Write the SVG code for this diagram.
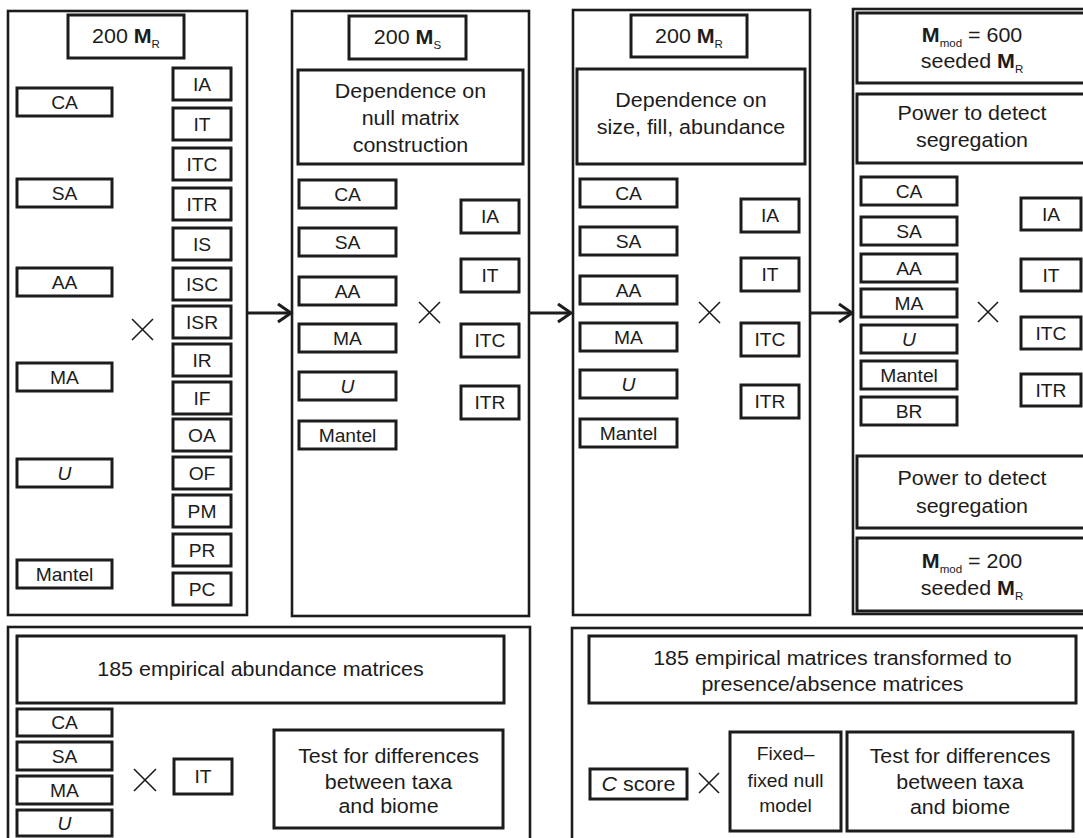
<svg xmlns="http://www.w3.org/2000/svg" width="1083" height="838" viewBox="0 0 1083 838">
<style>
.pn{fill:none;stroke:#1c1c1c;stroke-width:2.6}
.bx{fill:#fff;stroke:#1c1c1c;stroke-width:3}
.t{font-family:"Liberation Sans",Arial,Helvetica,sans-serif;font-size:19.5px;fill:#1c1c1c;text-anchor:middle}
.s{font-size:17.5px}
.i{font-style:italic}
.b{font-weight:bold}
.sub{font-size:10.5px}
.x{fill:none;stroke:#1c1c1c;stroke-width:1.6}
.ar{fill:none;stroke:#1c1c1c;stroke-width:2.8}
</style>
<defs>
<marker id="ah" markerUnits="userSpaceOnUse" markerWidth="20" markerHeight="22" viewBox="0 0 20 22" refX="16" refY="11" orient="auto">
<path d="M3,2 L16,11 L3,20" fill="none" stroke="#1c1c1c" stroke-width="3"/>
</marker>
</defs>
<rect width="1083" height="838" fill="#fff"/>

<g id="p1">
<rect class="pn" x="8" y="11" width="239" height="604"/>
<rect class="bx" x="68" y="15" width="116" height="43"/>
<text class="t" transform="translate(126,43) scale(1.1,1)">200 <tspan class="b">M</tspan><tspan class="sub" dy="5">R</tspan></text>
<rect class="bx" x="17" y="88" width="95" height="28"/><text class="t s" transform="translate(64.5,109) scale(1.1,1)">CA</text>
<rect class="bx" x="17" y="179" width="95" height="28"/><text class="t s" transform="translate(64.5,200) scale(1.1,1)">SA</text>
<rect class="bx" x="17" y="268" width="95" height="28"/><text class="t s" transform="translate(64.5,289) scale(1.1,1)">AA</text>
<rect class="bx" x="17" y="363" width="95" height="28"/><text class="t s" transform="translate(64.5,384) scale(1.1,1)">MA</text>
<rect class="bx" x="17" y="459" width="95" height="28"/><text class="t s i" transform="translate(64.5,480) scale(1.1,1)">U</text>
<rect class="bx" x="17" y="560" width="95" height="28"/><text class="t s" transform="translate(64.5,581) scale(1.1,1)">Mantel</text>
<rect class="bx" x="173" y="68" width="58" height="32"/><text class="t s" transform="translate(202,90.5) scale(1.1,1)">IA</text>
<rect class="bx" x="173" y="108" width="58" height="32"/><text class="t s" transform="translate(202,130.5) scale(1.1,1)">IT</text>
<rect class="bx" x="173" y="148" width="58" height="32"/><text class="t s" transform="translate(202,170.5) scale(1.1,1)">ITC</text>
<rect class="bx" x="173" y="188" width="58" height="32"/><text class="t s" transform="translate(202,210.5) scale(1.1,1)">ITR</text>
<rect class="bx" x="173" y="228" width="58" height="32"/><text class="t s" transform="translate(202,250.5) scale(1.1,1)">IS</text>
<rect class="bx" x="173" y="268" width="58" height="32"/><text class="t s" transform="translate(202,290.5) scale(1.1,1)">ISC</text>
<rect class="bx" x="173" y="306" width="58" height="32"/><text class="t s" transform="translate(202,328.5) scale(1.1,1)">ISR</text>
<rect class="bx" x="173" y="344" width="58" height="32"/><text class="t s" transform="translate(202,366.5) scale(1.1,1)">IR</text>
<rect class="bx" x="173" y="382" width="58" height="32"/><text class="t s" transform="translate(202,404.5) scale(1.1,1)">IF</text>
<rect class="bx" x="173" y="419" width="58" height="32"/><text class="t s" transform="translate(202,441.5) scale(1.1,1)">OA</text>
<rect class="bx" x="173" y="457" width="58" height="32"/><text class="t s" transform="translate(202,479.5) scale(1.1,1)">OF</text>
<rect class="bx" x="173" y="495" width="58" height="32"/><text class="t s" transform="translate(202,517.5) scale(1.1,1)">PM</text>
<rect class="bx" x="173" y="534" width="58" height="32"/><text class="t s" transform="translate(202,556.5) scale(1.1,1)">PR</text>
<rect class="bx" x="173" y="573" width="58" height="32"/><text class="t s" transform="translate(202,595.5) scale(1.1,1)">PC</text>
<path class="x" d="M132,319 L153,340 M153,319 L132,340"/>
</g>

<g id="p2">
<rect class="pn" x="292" y="11" width="237" height="605"/>
<rect class="bx" x="349" y="16" width="117" height="43"/>
<text class="t" transform="translate(407.5,44) scale(1.1,1)">200 <tspan class="b">M</tspan><tspan class="sub" dy="5">S</tspan></text>
<rect class="bx" x="298" y="70" width="225" height="94"/>
<text class="t" transform="translate(410.5,98) scale(1.1,1)">Dependence on</text>
<text class="t" transform="translate(410.5,125) scale(1.1,1)">null matrix</text>
<text class="t" transform="translate(410.5,152) scale(1.1,1)">construction</text>
<rect class="bx" x="299" y="180" width="97" height="28"/><text class="t s" transform="translate(347.5,201) scale(1.1,1)">CA</text>
<rect class="bx" x="299" y="228" width="97" height="28"/><text class="t s" transform="translate(347.5,249) scale(1.1,1)">SA</text>
<rect class="bx" x="299" y="277" width="97" height="28"/><text class="t s" transform="translate(347.5,298) scale(1.1,1)">AA</text>
<rect class="bx" x="299" y="324" width="97" height="28"/><text class="t s" transform="translate(347.5,345) scale(1.1,1)">MA</text>
<rect class="bx" x="299" y="372" width="97" height="28"/><text class="t s i" transform="translate(347.5,393) scale(1.1,1)">U</text>
<rect class="bx" x="299" y="421" width="97" height="28"/><text class="t s" transform="translate(347.5,442) scale(1.1,1)">Mantel</text>
<rect class="bx" x="461" y="200" width="58" height="33"/><text class="t s" transform="translate(490,223) scale(1.1,1)">IA</text>
<rect class="bx" x="461" y="259" width="58" height="33"/><text class="t s" transform="translate(490,282) scale(1.1,1)">IT</text>
<rect class="bx" x="461" y="324" width="58" height="33"/><text class="t s" transform="translate(490,347) scale(1.1,1)">ITC</text>
<rect class="bx" x="461" y="386" width="58" height="33"/><text class="t s" transform="translate(490,409) scale(1.1,1)">ITR</text>
<path class="x" d="M419,302 L440,323 M440,302 L419,323"/>
</g>

<g id="p3">
<rect class="pn" x="573" y="10" width="237" height="605"/>
<rect class="bx" x="631" y="15" width="116" height="42"/>
<text class="t" transform="translate(689,43) scale(1.1,1)">200 <tspan class="b">M</tspan><tspan class="sub" dy="5">R</tspan></text>
<rect class="bx" x="577" y="69" width="228" height="95"/>
<text class="t" transform="translate(691,107) scale(1.1,1)">Dependence on</text>
<text class="t" transform="translate(691,134) scale(1.1,1)">size, fill, abundance</text>
<rect class="bx" x="580" y="179" width="97" height="28"/><text class="t s" transform="translate(628.5,200) scale(1.1,1)">CA</text>
<rect class="bx" x="580" y="227" width="97" height="28"/><text class="t s" transform="translate(628.5,248) scale(1.1,1)">SA</text>
<rect class="bx" x="580" y="276" width="97" height="28"/><text class="t s" transform="translate(628.5,297) scale(1.1,1)">AA</text>
<rect class="bx" x="580" y="323" width="97" height="28"/><text class="t s" transform="translate(628.5,344) scale(1.1,1)">MA</text>
<rect class="bx" x="580" y="370" width="97" height="28"/><text class="t s i" transform="translate(628.5,391) scale(1.1,1)">U</text>
<rect class="bx" x="580" y="419" width="97" height="28"/><text class="t s" transform="translate(628.5,440) scale(1.1,1)">Mantel</text>
<rect class="bx" x="741" y="199" width="58" height="33"/><text class="t s" transform="translate(770,222) scale(1.1,1)">IA</text>
<rect class="bx" x="741" y="258" width="58" height="33"/><text class="t s" transform="translate(770,281) scale(1.1,1)">IT</text>
<rect class="bx" x="741" y="323" width="58" height="33"/><text class="t s" transform="translate(770,346) scale(1.1,1)">ITC</text>
<rect class="bx" x="741" y="385" width="58" height="33"/><text class="t s" transform="translate(770,408) scale(1.1,1)">ITR</text>
<path class="x" d="M699,302 L720,323 M720,302 L699,323"/>
</g>

<g id="p4">
<rect class="pn" x="853" y="9" width="260" height="605"/>
<rect class="bx" x="857" y="13" width="240" height="70"/>
<text class="t" transform="translate(972,42) scale(1.1,1)"><tspan class="b">M</tspan><tspan class="sub" dy="5">mod</tspan><tspan dy="-5"> = 600</tspan></text>
<text class="t" transform="translate(972,68) scale(1.1,1)">seeded <tspan class="b">M</tspan><tspan class="sub" dy="5">R</tspan></text>
<rect class="bx" x="857" y="94" width="240" height="69"/>
<text class="t" transform="translate(972,120) scale(1.1,1)">Power to detect</text>
<text class="t" transform="translate(972,147) scale(1.1,1)">segregation</text>
<rect class="bx" x="861" y="177" width="96" height="28"/><text class="t s" transform="translate(909,198) scale(1.1,1)">CA</text>
<rect class="bx" x="861" y="217" width="96" height="28"/><text class="t s" transform="translate(909,238) scale(1.1,1)">SA</text>
<rect class="bx" x="861" y="254" width="96" height="28"/><text class="t s" transform="translate(909,275) scale(1.1,1)">AA</text>
<rect class="bx" x="861" y="289" width="96" height="28"/><text class="t s" transform="translate(909,310) scale(1.1,1)">MA</text>
<rect class="bx" x="861" y="325" width="96" height="28"/><text class="t s i" transform="translate(909,346) scale(1.1,1)">U</text>
<rect class="bx" x="861" y="361" width="96" height="28"/><text class="t s" transform="translate(909,382) scale(1.1,1)">Mantel</text>
<rect class="bx" x="861" y="397" width="96" height="28"/><text class="t s" transform="translate(909,418) scale(1.1,1)">BR</text>
<rect class="bx" x="1021" y="198" width="60" height="32"/><text class="t s" transform="translate(1051,220.5) scale(1.1,1)">IA</text>
<rect class="bx" x="1021" y="259" width="60" height="32"/><text class="t s" transform="translate(1051,281.5) scale(1.1,1)">IT</text>
<rect class="bx" x="1021" y="317" width="60" height="32"/><text class="t s" transform="translate(1051,339.5) scale(1.1,1)">ITC</text>
<rect class="bx" x="1021" y="374" width="60" height="32"/><text class="t s" transform="translate(1051,396.5) scale(1.1,1)">ITR</text>
<path class="x" d="M978,302 L998,322 M998,302 L978,322"/>
<rect class="bx" x="857" y="456" width="240" height="72"/>
<text class="t" transform="translate(972,485) scale(1.1,1)">Power to detect</text>
<text class="t" transform="translate(972,513) scale(1.1,1)">segregation</text>
<rect class="bx" x="857" y="538" width="240" height="73"/>
<text class="t" transform="translate(972,568) scale(1.1,1)"><tspan class="b">M</tspan><tspan class="sub" dy="5">mod</tspan><tspan dy="-5"> = 200</tspan></text>
<text class="t" transform="translate(972,595) scale(1.1,1)">seeded <tspan class="b">M</tspan><tspan class="sub" dy="5">R</tspan></text>
</g>

<g id="p5">
<rect class="pn" x="8" y="627" width="522" height="240"/>
<rect class="bx" x="17" y="636" width="487" height="67"/>
<text class="t" transform="translate(260.5,676) scale(1.1,1)">185 empirical abundance matrices</text>
<rect class="bx" x="17" y="709" width="95" height="27"/><text class="t s" transform="translate(64.5,729) scale(1.1,1)">CA</text>
<rect class="bx" x="17" y="742" width="95" height="28"/><text class="t s" transform="translate(64.5,762.5) scale(1.1,1)">SA</text>
<rect class="bx" x="17" y="776" width="95" height="28"/><text class="t s" transform="translate(64.5,797) scale(1.1,1)">MA</text>
<rect class="bx" x="17" y="810" width="95" height="26"/><text class="t s i" transform="translate(64.5,830) scale(1.1,1)">U</text>
<path class="x" d="M134,769 L156,791 M156,769 L134,791"/>
<rect class="bx" x="174" y="759" width="58" height="35"/><text class="t s" transform="translate(203,783) scale(1.1,1)">IT</text>
<rect class="bx" x="274" y="730" width="229" height="98"/>
<text class="t" transform="translate(388.5,763) scale(1.1,1)">Test for differences</text>
<text class="t" transform="translate(388.5,789) scale(1.1,1)">between taxa</text>
<text class="t" transform="translate(388.5,813) scale(1.1,1)">and biome</text>
</g>

<g id="p6">
<rect class="pn" x="572" y="628" width="530" height="240"/>
<rect class="bx" x="589" y="636" width="487" height="67"/>
<text class="t" transform="translate(832.5,665) scale(1.1,1)">185 empirical matrices transformed to</text>
<text class="t" transform="translate(832.5,691) scale(1.1,1)">presence/absence matrices</text>
<rect class="bx" x="590" y="769" width="97" height="30"/>
<text class="t" transform="translate(638.5,791) scale(1.1,1)"><tspan class="i">C</tspan> score</text>
<path class="x" d="M699,773 L719,793 M719,773 L699,793"/>
<rect class="bx" x="730" y="732" width="111" height="99"/>
<text class="t s" transform="translate(785.5,760) scale(1.1,1)">Fixed–</text>
<text class="t s" transform="translate(785.5,787) scale(1.1,1)">fixed null</text>
<text class="t s" transform="translate(785.5,812) scale(1.1,1)">model</text>
<rect class="bx" x="847" y="732" width="226" height="99"/>
<text class="t" transform="translate(960,763) scale(1.1,1)">Test for differences</text>
<text class="t" transform="translate(960,789) scale(1.1,1)">between taxa</text>
<text class="t" transform="translate(960,814) scale(1.1,1)">and biome</text>
</g>

<g id="connectors">
<line class="ar" x1="247" y1="313" x2="291" y2="313" marker-end="url(#ah)"/>
<line class="ar" x1="529" y1="313" x2="571" y2="313" marker-end="url(#ah)"/>
<line class="ar" x1="810" y1="313" x2="852" y2="313" marker-end="url(#ah)"/>
</g>
</svg>
